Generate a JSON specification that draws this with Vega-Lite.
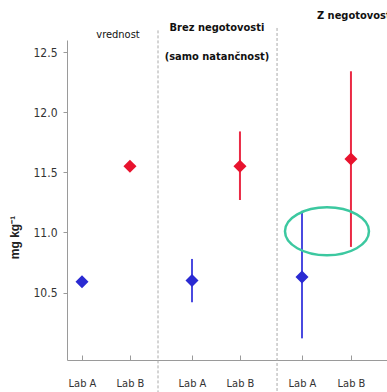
{
  "$schema": "https://vega.github.io/schema/vega-lite/v6.json",
  "width": 320,
  "height": 320,
  "autosize": {"type": "none"},
  "padding": {"left": 67, "top": 40, "right": 0, "bottom": 32},
  "background": "white",
  "config": {"view": {"stroke": null}},
  "datasets": {
    "pts": [
      {"x": 1, "y": 10.59, "lab": "A"},
      {"x": 1.436, "y": 11.55, "lab": "B"},
      {"x": 2, "y": 10.60, "lo": 10.42, "hi": 10.78, "lab": "A"},
      {"x": 2.436, "y": 11.55, "lo": 11.27, "hi": 11.84, "lab": "B"},
      {"x": 3, "y": 10.63, "lo": 10.12, "hi": 11.18, "lab": "A"},
      {"x": 3.445, "y": 11.61, "lo": 10.88, "hi": 12.34, "lab": "B"}
    ],
    "seps": [{"x": 1.691, "top": 12.68, "bot": 9.6}, {"x": 2.773, "top": 12.7, "bot": 9.6}],
    "heads": [
      {"x": 2.227, "y": 12.7, "t": "Brez negotovosti"},
      {"x": 2.227, "y": 12.46, "t": "(samo natančnost)"}
    ]
  },
  "layer": [
    {
      "data": {"name": "seps"},
      "mark": {"type": "rule", "color": "#aaaaaa", "strokeDash": [3, 2], "strokeWidth": 1},
      "encoding": {
        "x": {"field": "x", "type": "quantitative", "scale": {"domain": [0.8636, 3.7727], "nice": false, "zero": false},
          "axis": {"values": [1, 1.436, 2, 2.436, 3, 3.445], "labelExpr": "datum.value == round(datum.value) ? 'Lab A' : 'Lab B'", "title": null, "grid": false, "domainColor": "#9a9a9a", "tickColor": "#9a9a9a", "tickSize": -5, "labelPadding": 22, "labelFont": "DejaVu Sans Condensed, Liberation Sans, sans-serif", "labelFontSize": 11, "labelColor": "#333333"}},
        "y": {"field": "top", "type": "quantitative", "scale": {"domain": [9.94, 12.6], "nice": false, "zero": false},
          "axis": {"values": [10.5, 11, 11.5, 12, 12.5], "format": ".1f", "title": "mg kg⁻¹", "grid": false, "domainColor": "#9a9a9a", "tickColor": "#9a9a9a", "tickSize": 4, "labelPadding": 6, "labelFont": "DejaVu Sans Condensed, Liberation Sans, sans-serif", "labelFontSize": 12, "labelColor": "#333333", "titleFont": "Liberation Sans", "titleFontSize": 12, "titleFontWeight": "bold", "titleColor": "#222222", "titleX": -46, "titleY": 197}},
        "y2": {"field": "bot"}
      }
    },
    {
      "data": {"name": "pts"},
      "mark": {"type": "rule", "strokeWidth": 2},
      "encoding": {
        "x": {"field": "x", "type": "quantitative"},
        "y": {"field": "lo", "type": "quantitative"},
        "y2": {"field": "hi"},
        "color": {"field": "lab", "type": "nominal", "scale": {"domain": ["A", "B"], "range": ["#4a4ae0", "#ea2a45"]}, "legend": null}
      }
    },
    {
      "data": {"name": "pts"},
      "mark": {"type": "point", "shape": "diamond", "filled": true, "opacity": 1, "size": 170},
      "encoding": {
        "x": {"field": "x", "type": "quantitative"},
        "y": {"field": "y", "type": "quantitative"},
        "fill": {"field": "lab", "type": "nominal", "scale": {"domain": ["A", "B"], "range": ["#2a2ad2", "#e8132e"]}, "legend": null}
      }
    },
    {
      "data": {"values": [{"x": 3.227, "y": 11.01}]},
      "mark": {"type": "point", "shape": "M -1 0 A 1 0.571 0 1 0 1 0 A 1 0.571 0 1 0 -1 0 Z", "size": 7056, "filled": false, "stroke": "#3cc8a0", "strokeWidth": 2.5, "opacity": 1},
      "encoding": {
        "x": {"field": "x", "type": "quantitative"},
        "y": {"field": "y", "type": "quantitative"}
      }
    },
    {
      "data": {"values": [{"x": 1.327, "y": 12.64, "t": "vrednost"}]},
      "mark": {"type": "text", "font": "DejaVu Sans Condensed, Liberation Sans, sans-serif", "fontSize": 11, "fontWeight": 500, "color": "#111111", "align": "center", "baseline": "middle"},
      "encoding": {
        "x": {"field": "x", "type": "quantitative"},
        "y": {"field": "y", "type": "quantitative"},
        "text": {"field": "t"}
      }
    },
    {
      "data": {"name": "heads"},
      "mark": {"type": "text", "font": "DejaVu Sans Condensed, Liberation Sans, sans-serif", "fontSize": 11, "fontWeight": "bold", "color": "#111111", "align": "center", "baseline": "middle"},
      "encoding": {
        "x": {"field": "x", "type": "quantitative"},
        "y": {"field": "y", "type": "quantitative"},
        "text": {"field": "t"}
      }
    },
    {
      "data": {"values": [{"x": 3.136, "y": 12.8, "t": "Z negotovostjo"}]},
      "mark": {"type": "text", "font": "DejaVu Sans Condensed, Liberation Sans, sans-serif", "fontSize": 11, "fontWeight": "bold", "color": "#111111", "align": "left", "baseline": "middle"},
      "encoding": {
        "x": {"field": "x", "type": "quantitative"},
        "y": {"field": "y", "type": "quantitative"},
        "text": {"field": "t"}
      }
    }
  ]
}
